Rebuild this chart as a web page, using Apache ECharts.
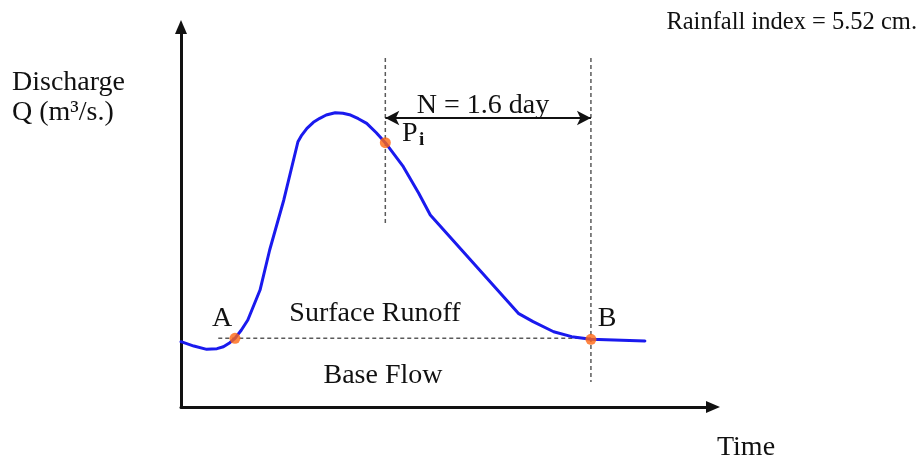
<!DOCTYPE html>
<html>
<head>
<meta charset="utf-8">
<script src="https://cdn.jsdelivr.net/npm/echarts@6/dist/echarts.min.js"></script>
<style>
html,body{margin:0;padding:0;background:#fff;}
#chart{width:919px;height:457px;}
</style>
</head>
<body>
<div id="chart"></div>
<script>
// Hydrograph (time in days, discharge in m3/s - relative units)
const timeDays  = [0, 0.10, 0.20, 0.28, 0.33, 0.38, 0.42, 0.47, 0.52, 0.615, 0.69, 0.80, 0.91, 0.94, 0.98, 1.03, 1.08, 1.13, 1.20, 1.26, 1.32, 1.38, 1.445, 1.52, 1.59, 1.73, 1.85, 1.94, 2.625, 2.74, 2.90, 3.04, 3.19, 3.61];
const discharge = [6.75, 6.3, 5.96, 6.03, 6.23, 6.65, 7.1, 7.96, 8.99, 12.09, 16.23, 21.4, 27.42, 28.11, 28.81, 29.43, 29.84, 30.18, 30.42, 30.36, 30.18, 29.8, 29.32, 28.35, 27.32, 24.84, 22.09, 19.84, 9.68, 8.82, 7.78, 7.27, 7.0, 6.82];

const pointNames = ['A', 'Pi', 'B'];
const pointTime  = [0.42, 1.59, 3.19];
const pointQ     = [7.1, 27.32, 7.0];

const baseFlowQ = 7.1;
const baseFlowStart = 0.29;
const nDays = 1.6;
const nArrowQ = 29.87;
const guideTopQ = 36.07;
const guidePiBottomQ = 18.81;
const guideBBottomQ = 2.58;

const xMax = 4.14;
const yMax = 39.28;

const serif = 'Liberation Serif';
const txtColor = '#111';
const F = '28px "' + serif + '"';

const chart = echarts.init(document.getElementById('chart'), null, {renderer: 'canvas'});

const curve = timeDays.map((t, i) => [t, discharge[i]]);
const pts = pointTime.map((t, i) => [t, pointQ[i]]);

const dashStyle = {color: '#5a5a5a', width: 1.5, type: [4, 3]};

const option = {
  animation: false,
  grid: {left: 181, top: 27, width: 532, height: 380, containLabel: false},
  xAxis: {
    type: 'value', min: 0, max: xMax,
    axisLine: {show: true, onZero: false, symbol: ['none', 'triangle'], symbolSize: [12, 14],
      lineStyle: {color: '#111', width: 3}},
    axisTick: {show: false}, axisLabel: {show: false}, splitLine: {show: false}
  },
  yAxis: {
    type: 'value', min: 0, max: yMax,
    axisLine: {show: true, onZero: false, symbol: ['none', 'triangle'], symbolSize: [12, 14],
      lineStyle: {color: '#111', width: 3}},
    axisTick: {show: false}, axisLabel: {show: false}, splitLine: {show: false}
  },
  series: [
    {
      type: 'line', data: [[baseFlowStart, baseFlowQ], [pointTime[2], baseFlowQ]],
      symbol: 'none', lineStyle: dashStyle, z: 1, silent: true
    },
    {
      type: 'line', data: [[pointTime[1], guideTopQ], [pointTime[1], guidePiBottomQ]],
      symbol: 'none', lineStyle: dashStyle, z: 1, silent: true
    },
    {
      type: 'line', data: [[pointTime[2], guideTopQ], [pointTime[2], guideBBottomQ]],
      symbol: 'none', lineStyle: dashStyle, z: 1, silent: true
    },
    {
      type: 'line', data: curve, symbol: 'none', smooth: false,
      lineStyle: {color: '#1a1aee', width: 3, join: 'round', cap: 'round'}, z: 3, silent: true,
      markLine: {
        silent: true, symbol: ['arrow', 'arrow'], symbolSize: [11, 14],
        lineStyle: {color: '#111', width: 2, type: 'solid'},
        label: {show: false},
        data: [[{coord: [pointTime[1], nArrowQ]}, {coord: [pointTime[1] + nDays, nArrowQ]}]]
      }
    },
    {
      type: 'scatter', data: pts, symbolSize: 11,
      itemStyle: {color: '#ff6611'}, z: 5, silent: true
    }
  ],
  graphic: [
    {type: 'text', right: 2, top: 10, style: {text: 'Rainfall index = 5.52 cm.', font: '24.5px "' + serif + '"', fill: txtColor}},
    {type: 'text', x: 12, y: 83, style: {text: 'Discharge', font: F, fill: txtColor, verticalAlign: 'middle'}},
    {type: 'text', x: 12, y: 113, style: {text: 'Q (m³/s.)', font: F, fill: txtColor, verticalAlign: 'middle'}},
    {type: 'text', x: 375, y: 314, style: {text: 'Surface Runoff', font: F, fill: txtColor, align: 'center', verticalAlign: 'middle'}},
    {type: 'text', x: 383, y: 376, style: {text: 'Base Flow', font: F, fill: txtColor, align: 'center', verticalAlign: 'middle'}},
    {type: 'text', x: 746, y: 448, style: {text: 'Time', font: F, fill: txtColor, align: 'center', verticalAlign: 'middle'}},
    {type: 'text', x: 483, y: 106, style: {text: 'N = ' + nDays + ' day', font: F, fill: txtColor, align: 'center', verticalAlign: 'middle'}},
    {type: 'text', x: 222, y: 319, style: {text: pointNames[0], font: F, fill: txtColor, align: 'center', verticalAlign: 'middle'}},
    {type: 'text', x: 607, y: 319, style: {text: pointNames[2], font: F, fill: txtColor, align: 'center', verticalAlign: 'middle'}},
    {type: 'text', x: 402, y: 134, style: {text: 'P', font: F, fill: txtColor, verticalAlign: 'middle'}},
    {type: 'text', x: 419, y: 140, style: {text: 'i', font: 'bold 19px "' + serif + '"', fill: txtColor, verticalAlign: 'middle'}}
  ]
};
chart.setOption(option);
</script>
</body>
</html>
